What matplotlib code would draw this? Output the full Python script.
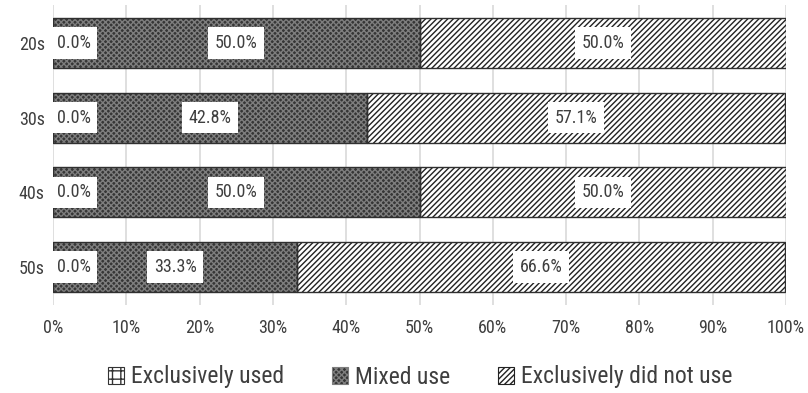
import matplotlib
matplotlib.use("Agg")
import matplotlib.pyplot as plt
from matplotlib.patches import Patch
from matplotlib import font_manager

groups = ["20s", "30s", "40s", "50s"]
exclusively_used = [0.0, 0.0, 0.0, 0.0]
mixed_use = [50.0, 42.8, 50.0, 33.3]
did_not_use = [50.0, 57.1, 50.0, 66.6]
x_ticks = [0, 10, 20, 30, 40, 50, 60, 70, 80, 90, 100]

names = {f.name for f in font_manager.fontManager.ttflist}
family = [f for f in ["Roboto Condensed", "Liberation Sans Narrow", "Roboto", "DejaVu Sans"] if f in names]
plt.rcParams["font.family"] = family
plt.rcParams["hatch.linewidth"] = 1.0

fig = plt.figure(figsize=(8.08, 3.93), dpi=100)
ax = fig.add_axes([53 / 808, 1 - 305 / 393, 733 / 808, 300 / 393])

ypos = list(range(len(groups)))
h = 0.67
text_color = "#3f3f3f"

series = [
    ("Exclusively used", exclusively_used, dict(facecolor="white", hatch="++", hatchcolor="#333333")),
    ("Mixed use", mixed_use, dict(facecolor="#363636", hatch="xxxxxx", hatchcolor="#7e7e7e")),
    ("Exclusively did not use", did_not_use, dict(facecolor="white", hatch="//////", hatchcolor="#222222")),
]

left = [0.0] * len(groups)
for name, vals, style in series:
    ax.barh(ypos, vals, left=left, height=h, facecolor=style["facecolor"],
            hatch=style["hatch"], edgecolor=style["hatchcolor"], linewidth=0, zorder=2)
    ax.barh(ypos, vals, left=left, height=h, facecolor="none", edgecolor="#303030",
            linewidth=1.0, zorder=3)
    for y, v, l in zip(ypos, vals, left):
        if v == 0:
            xt, ha = l + 0.5, "left"
        else:
            xt, ha = l + v / 2, "center"
        ax.text(xt, y, f"{v:.1f}%", ha=ha, va="center", fontsize=13, color=text_color,
                zorder=5, bbox=dict(facecolor="white", edgecolor="none", pad=4.8))
    left = [a + b for a, b in zip(left, vals)]

ax.set_xlim(0, 100)
ax.set_ylim(3.51, -0.51)
ax.set_xticks(x_ticks)
ax.set_xticklabels([f"{t}%" for t in x_ticks], fontsize=13, color=text_color)
ax.set_yticks(ypos)
ax.set_yticklabels(groups, fontsize=13, color=text_color)
ax.tick_params(length=0, pad=6)
ax.tick_params(axis="x", pad=10)
ax.grid(axis="x", color="#d9d9d9", linewidth=1.2, zorder=0)
ax.set_axisbelow(True)
for s in ax.spines.values():
    s.set_visible(False)

handles = [Patch(facecolor=st["facecolor"], hatch=st["hatch"], edgecolor=st["hatchcolor"], linewidth=0.8,
                 label=n) for n, _, st in series]
fig.legend(handles=handles, loc="center", bbox_to_anchor=(0.52, 1 - 377 / 393), ncol=3,
           frameon=False, fontsize=17, handlelength=0.7, handleheight=0.7, handletextpad=0.3,
           columnspacing=2.0, labelcolor=text_color)

fig.savefig("out.png", dpi=100)
